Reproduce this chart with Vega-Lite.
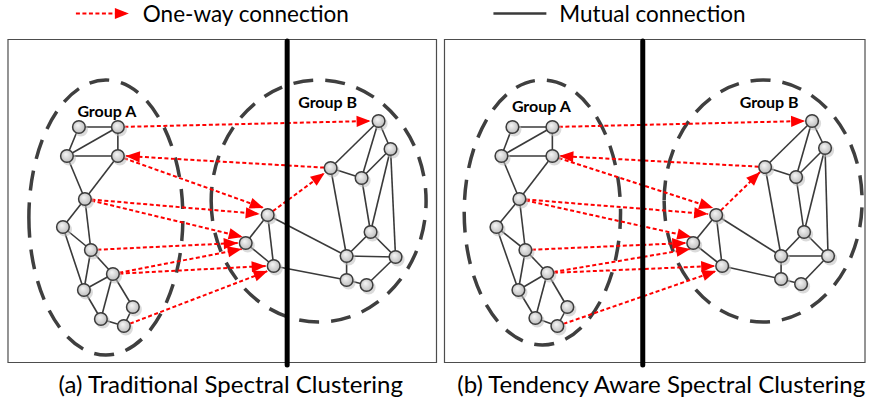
{
  "$schema": "https://vega.github.io/schema/vega-lite/v6.json",
  "width": 869,
  "height": 405,
  "padding": 0,
  "autosize": {"type": "fit", "contains": "padding"},
  "background": "white",
  "config": {"view": {"stroke": null}},
  "datasets": {
    "nodes": [
      {"id": "aA1", "x": 79, "y": 127}, {"id": "aA2", "x": 118, "y": 127}, {"id": "aA3", "x": 67, "y": 156}, {"id": "aA4", "x": 118, "y": 156},
      {"id": "aA5", "x": 85, "y": 199}, {"id": "aA6", "x": 63, "y": 227}, {"id": "aA7", "x": 91, "y": 250}, {"id": "aA8", "x": 113, "y": 274},
      {"id": "aA9", "x": 84, "y": 290}, {"id": "aA10", "x": 133, "y": 307}, {"id": "aA11", "x": 101, "y": 319}, {"id": "aA12", "x": 124, "y": 326},
      {"id": "aM1", "x": 268, "y": 215}, {"id": "aM2", "x": 246, "y": 243}, {"id": "aM3", "x": 274, "y": 266},
      {"id": "aB1", "x": 379, "y": 121}, {"id": "aB2", "x": 391, "y": 149}, {"id": "aB3", "x": 331, "y": 168}, {"id": "aB4", "x": 362, "y": 178},
      {"id": "aB5", "x": 371, "y": 232}, {"id": "aB6", "x": 347, "y": 256}, {"id": "aB7", "x": 396, "y": 257}, {"id": "aB8", "x": 347, "y": 280}, {"id": "aB9", "x": 367, "y": 285},
      {"id": "bA1", "x": 513, "y": 127}, {"id": "bA2", "x": 553, "y": 127}, {"id": "bA3", "x": 502, "y": 156}, {"id": "bA4", "x": 553, "y": 156},
      {"id": "bA5", "x": 520, "y": 199}, {"id": "bA6", "x": 497, "y": 227}, {"id": "bA7", "x": 526, "y": 250}, {"id": "bA8", "x": 548, "y": 273},
      {"id": "bA9", "x": 519, "y": 290}, {"id": "bA10", "x": 568, "y": 307}, {"id": "bA11", "x": 536, "y": 318}, {"id": "bA12", "x": 558, "y": 326},
      {"id": "bM1", "x": 717, "y": 215}, {"id": "bM2", "x": 694, "y": 243}, {"id": "bM3", "x": 723, "y": 266},
      {"id": "bB1", "x": 813, "y": 121}, {"id": "bB2", "x": 826, "y": 148}, {"id": "bB3", "x": 766, "y": 167}, {"id": "bB4", "x": 797, "y": 177},
      {"id": "bB5", "x": 805, "y": 232}, {"id": "bB6", "x": 782, "y": 256}, {"id": "bB7", "x": 829, "y": 256}, {"id": "bB8", "x": 782, "y": 279}, {"id": "bB9", "x": 802, "y": 284}
    ],
    "edges": [
      {"s": "aA1", "t": "aA2"}, {"s": "aA1", "t": "aA3"}, {"s": "aA3", "t": "aA2"}, {"s": "aA3", "t": "aA4"}, {"s": "aA2", "t": "aA4"},
      {"s": "aA3", "t": "aA5"}, {"s": "aA4", "t": "aA5"}, {"s": "aA5", "t": "aA6"}, {"s": "aA5", "t": "aA7"}, {"s": "aA6", "t": "aA7"},
      {"s": "aA6", "t": "aA9"}, {"s": "aA7", "t": "aA8"}, {"s": "aA7", "t": "aA9"}, {"s": "aA8", "t": "aA9"}, {"s": "aA8", "t": "aA11"},
      {"s": "aA8", "t": "aA10"}, {"s": "aA9", "t": "aA11"}, {"s": "aA11", "t": "aA12"}, {"s": "aA10", "t": "aA12"},
      {"s": "aM1", "t": "aM2"}, {"s": "aM1", "t": "aM3"}, {"s": "aM2", "t": "aM3"}, {"s": "aM1", "t": "aB6"}, {"s": "aM3", "t": "aB8"},
      {"s": "aB1", "t": "aB3"}, {"s": "aB1", "t": "aB4"}, {"s": "aB1", "t": "aB2"}, {"s": "aB2", "t": "aB4"}, {"s": "aB2", "t": "aB5"},
      {"s": "aB2", "t": "aB7"}, {"s": "aB4", "t": "aB5"}, {"s": "aB3", "t": "aB4"}, {"s": "aB3", "t": "aB6"}, {"s": "aB5", "t": "aB6"},
      {"s": "aB5", "t": "aB7"}, {"s": "aB6", "t": "aB7"}, {"s": "aB6", "t": "aB8"}, {"s": "aB8", "t": "aB9"}, {"s": "aB9", "t": "aB7"},
      {"s": "bA1", "t": "bA2"}, {"s": "bA1", "t": "bA3"}, {"s": "bA3", "t": "bA2"}, {"s": "bA3", "t": "bA4"}, {"s": "bA2", "t": "bA4"},
      {"s": "bA3", "t": "bA5"}, {"s": "bA4", "t": "bA5"}, {"s": "bA5", "t": "bA6"}, {"s": "bA5", "t": "bA7"}, {"s": "bA6", "t": "bA7"},
      {"s": "bA6", "t": "bA9"}, {"s": "bA7", "t": "bA8"}, {"s": "bA7", "t": "bA9"}, {"s": "bA8", "t": "bA9"}, {"s": "bA8", "t": "bA11"},
      {"s": "bA8", "t": "bA10"}, {"s": "bA9", "t": "bA11"}, {"s": "bA11", "t": "bA12"}, {"s": "bA10", "t": "bA12"},
      {"s": "bM1", "t": "bM2"}, {"s": "bM1", "t": "bM3"}, {"s": "bM2", "t": "bM3"}, {"s": "bM1", "t": "bB6"}, {"s": "bM3", "t": "bB8"},
      {"s": "bB1", "t": "bB3"}, {"s": "bB1", "t": "bB4"}, {"s": "bB1", "t": "bB2"}, {"s": "bB2", "t": "bB4"}, {"s": "bB2", "t": "bB5"},
      {"s": "bB2", "t": "bB7"}, {"s": "bB4", "t": "bB5"}, {"s": "bB3", "t": "bB4"}, {"s": "bB3", "t": "bB6"}, {"s": "bB5", "t": "bB6"},
      {"s": "bB5", "t": "bB7"}, {"s": "bB6", "t": "bB7"}, {"s": "bB6", "t": "bB8"}, {"s": "bB8", "t": "bB9"}, {"s": "bB9", "t": "bB7"}
    ],
    "arrows": [
      {"s": "aA2", "tx": 371, "ty": 121}, {"s": "aB3", "tx": 126, "ty": 156}, {"s": "aA4", "tx": 264, "ty": 208},
      {"s": "aA5", "tx": 260, "ty": 214}, {"s": "aA5", "tx": 243, "ty": 237}, {"s": "aA7", "tx": 238, "ty": 243},
      {"s": "aA8", "tx": 242, "ty": 249}, {"s": "aA8", "tx": 266, "ty": 266}, {"s": "aA12", "tx": 268, "ty": 271},
      {"s": "aM1", "tx": 325, "ty": 173},
      {"s": "bA2", "tx": 806, "ty": 121}, {"s": "bB3", "tx": 560, "ty": 156}, {"s": "bA4", "tx": 714, "ty": 208},
      {"s": "bA5", "tx": 709, "ty": 214}, {"s": "bA5", "tx": 692, "ty": 237}, {"s": "bA7", "tx": 687, "ty": 243},
      {"s": "bA8", "tx": 691, "ty": 249}, {"s": "bA8", "tx": 716, "ty": 266}, {"s": "bA12", "tx": 717, "ty": 271},
      {"s": "bM1", "tx": 761, "ty": 172}
    ]
  },
  "layer": [
    {
      "data": {"values": [{"x0": 8, "x1": 437, "y0": 39.5, "y1": 362.5}, {"x0": 445, "x1": 866, "y0": 39.5, "y1": 362.5}]},
      "mark": {"type": "rect", "fill": null, "fillOpacity": 0, "stroke": "#4d4d4d", "strokeWidth": 1.2},
      "encoding": {
        "x": {"field": "x0", "type": "quantitative", "scale": {"domain": [0, 869], "nice": false}, "axis": null},
        "x2": {"field": "x1"},
        "y": {"field": "y0", "type": "quantitative", "scale": {"domain": [0, 405], "nice": false, "reverse": true}, "axis": null},
        "y2": {"field": "y1"}
      }
    },
    {
      "data": {"values": [{"group": "Group A", "panel": "a", "x": 106, "y": 217.5}]},
      "mark": {"type": "point", "shape": "M-0.56,0A0.56,1,0,1,0,0.56,0A0.56,1,0,1,0,-0.56,0Z", "size": 75625, "filled": false, "stroke": "#3f3f3f", "strokeWidth": 3.5, "strokeDash": [20, 12], "opacity": 1},
      "encoding": {
        "x": {"field": "x", "type": "quantitative", "scale": {"domain": [0, 869], "nice": false}, "axis": null},
        "y": {"field": "y", "type": "quantitative", "scale": {"domain": [0, 405], "nice": false, "reverse": true}, "axis": null}
      }
    },
    {
      "data": {"values": [{"group": "Group B", "panel": "a", "x": 319, "y": 201}]},
      "mark": {"type": "point", "shape": "M-0.888,0A0.888,1,0,1,0,0.888,0A0.888,1,0,1,0,-0.888,0Z", "size": 58564, "filled": false, "stroke": "#3f3f3f", "strokeWidth": 3.5, "strokeDash": [20, 12], "opacity": 1},
      "encoding": {
        "x": {"field": "x", "type": "quantitative", "scale": {"domain": [0, 869], "nice": false}, "axis": null},
        "y": {"field": "y", "type": "quantitative", "scale": {"domain": [0, 405], "nice": false, "reverse": true}, "axis": null}
      }
    },
    {
      "data": {"values": [{"group": "Group A", "panel": "b", "x": 543, "y": 212.5}]},
      "mark": {"type": "point", "shape": "M-0.59,0A0.59,1,0,1,0,0.59,0A0.59,1,0,1,0,-0.59,0Z", "size": 70225, "filled": false, "stroke": "#3f3f3f", "strokeWidth": 3.5, "strokeDash": [20, 12], "opacity": 1},
      "encoding": {
        "x": {"field": "x", "type": "quantitative", "scale": {"domain": [0, 869], "nice": false}, "axis": null},
        "y": {"field": "y", "type": "quantitative", "scale": {"domain": [0, 405], "nice": false, "reverse": true}, "axis": null}
      }
    },
    {
      "data": {"values": [{"group": "Group B", "panel": "b", "x": 764, "y": 201}]},
      "mark": {"type": "point", "shape": "M-0.818,0A0.818,1,0,1,0,0.818,0A0.818,1,0,1,0,-0.818,0Z", "size": 58564, "filled": false, "stroke": "#3f3f3f", "strokeWidth": 3.5, "strokeDash": [20, 12], "opacity": 1},
      "encoding": {
        "x": {"field": "x", "type": "quantitative", "scale": {"domain": [0, 869], "nice": false}, "axis": null},
        "y": {"field": "y", "type": "quantitative", "scale": {"domain": [0, 405], "nice": false, "reverse": true}, "axis": null}
      }
    },
    {
      "data": {"name": "edges"},
      "transform": [
        {"lookup": "s", "from": {"data": {"name": "nodes"}, "key": "id", "fields": ["x", "y"]}, "as": ["sx", "sy"]},
        {"lookup": "t", "from": {"data": {"name": "nodes"}, "key": "id", "fields": ["x", "y"]}, "as": ["tx", "ty"]}
      ],
      "mark": {"type": "rule", "color": "#3a3a3a", "strokeWidth": 1.6},
      "encoding": {
        "x": {"field": "sx", "type": "quantitative", "scale": {"domain": [0, 869], "nice": false}, "axis": null},
        "y": {"field": "sy", "type": "quantitative", "scale": {"domain": [0, 405], "nice": false, "reverse": true}, "axis": null},
        "x2": {"field": "tx"},
        "y2": {"field": "ty"}
      }
    },
    {
      "data": {"name": "arrows"},
      "transform": [
        {"lookup": "s", "from": {"data": {"name": "nodes"}, "key": "id", "fields": ["x", "y"]}, "as": ["sx", "sy"]}
      ],
      "mark": {"type": "rule", "color": "#ff0000", "strokeWidth": 2, "strokeDash": [4, 2.5]},
      "encoding": {
        "x": {"field": "sx", "type": "quantitative", "scale": {"domain": [0, 869], "nice": false}, "axis": null},
        "y": {"field": "sy", "type": "quantitative", "scale": {"domain": [0, 405], "nice": false, "reverse": true}, "axis": null},
        "x2": {"field": "tx"},
        "y2": {"field": "ty"}
      }
    },
    {
      "data": {"name": "arrows"},
      "transform": [
        {"lookup": "s", "from": {"data": {"name": "nodes"}, "key": "id", "fields": ["x", "y"]}, "as": ["sx", "sy"]},
        {"calculate": "atan2(datum.ty - datum.sy, datum.tx - datum.sx) * 180 / PI", "as": "ang"}
      ],
      "mark": {"type": "point", "shape": "M0,0L-2,-0.8L-2,0.8Z", "size": 196, "filled": true, "color": "#ff0000", "opacity": 1},
      "encoding": {
        "x": {"field": "tx", "type": "quantitative", "scale": {"domain": [0, 869], "nice": false}, "axis": null},
        "y": {"field": "ty", "type": "quantitative", "scale": {"domain": [0, 405], "nice": false, "reverse": true}, "axis": null},
        "angle": {"field": "ang", "type": "quantitative", "scale": null}
      }
    },
    {
      "data": {"values": [{"x": 287.5, "y0": 41, "y1": 365}, {"x": 643.5, "y0": 41, "y1": 365}]},
      "mark": {"type": "rule", "color": "#000000", "strokeWidth": 5, "strokeCap": "round"},
      "encoding": {
        "x": {"field": "x", "type": "quantitative", "scale": {"domain": [0, 869], "nice": false}, "axis": null},
        "y": {"field": "y0", "type": "quantitative", "scale": {"domain": [0, 405], "nice": false, "reverse": true}, "axis": null},
        "y2": {"field": "y1"}
      }
    },
    {
      "data": {"name": "nodes"},
      "mark": {"type": "point", "shape": "circle", "size": 200, "filled": true, "color": "#bdbdbd", "opacity": 0.55, "xOffset": 2, "yOffset": 2.5, "strokeWidth": 0},
      "encoding": {
        "x": {"field": "x", "type": "quantitative", "scale": {"domain": [0, 869], "nice": false}, "axis": null},
        "y": {"field": "y", "type": "quantitative", "scale": {"domain": [0, 405], "nice": false, "reverse": true}, "axis": null}
      }
    },
    {
      "data": {"name": "nodes"},
      "mark": {
        "type": "point", "shape": "circle", "size": 160, "filled": true, "opacity": 1,
        "fill": {"gradient": "radial", "x1": 0.4, "y1": 0.35, "r1": 0, "x2": 0.5, "y2": 0.5, "r2": 0.6,
          "stops": [{"offset": 0, "color": "#f7f7f7"}, {"offset": 1, "color": "#b5b5b5"}]},
        "stroke": "#3c3c3c", "strokeWidth": 1.5
      },
      "encoding": {
        "x": {"field": "x", "type": "quantitative", "scale": {"domain": [0, 869], "nice": false}, "axis": null},
        "y": {"field": "y", "type": "quantitative", "scale": {"domain": [0, 405], "nice": false, "reverse": true}, "axis": null}
      }
    },
    {
      "data": {"values": [
        {"label": "Group A", "x": 107, "y": 112}, {"label": "Group B", "x": 328, "y": 103},
        {"label": "Group A", "x": 542, "y": 107}, {"label": "Group B", "x": 770, "y": 103}
      ]},
      "mark": {"type": "text", "font": "Lato", "fontSize": 16, "fontWeight": "bold", "color": "#000000", "align": "center", "baseline": "middle"},
      "encoding": {
        "x": {"field": "x", "type": "quantitative", "scale": {"domain": [0, 869], "nice": false}, "axis": null},
        "y": {"field": "y", "type": "quantitative", "scale": {"domain": [0, 405], "nice": false, "reverse": true}, "axis": null},
        "text": {"field": "label"}
      }
    },
    {
      "data": {"values": [{"item": "One-way connection", "x0": 76, "x1": 126, "y": 13.5}]},
      "mark": {"type": "rule", "color": "#ff0000", "strokeWidth": 2, "strokeDash": [4, 2.5]},
      "encoding": {
        "x": {"field": "x0", "type": "quantitative", "scale": {"domain": [0, 869], "nice": false}, "axis": null},
        "x2": {"field": "x1"},
        "y": {"field": "y", "type": "quantitative", "scale": {"domain": [0, 405], "nice": false, "reverse": true}, "axis": null}
      }
    },
    {
      "data": {"values": [{"item": "One-way connection", "x": 129, "y": 13.5}]},
      "mark": {"type": "point", "shape": "M0,0L-2,-0.8L-2,0.8Z", "size": 196, "filled": true, "color": "#ff0000", "opacity": 1},
      "encoding": {
        "x": {"field": "x", "type": "quantitative", "scale": {"domain": [0, 869], "nice": false}, "axis": null},
        "y": {"field": "y", "type": "quantitative", "scale": {"domain": [0, 405], "nice": false, "reverse": true}, "axis": null}
      }
    },
    {
      "data": {"values": [{"item": "Mutual connection", "x0": 494, "x1": 547, "y": 13.5}]},
      "mark": {"type": "rule", "color": "#3a3a3a", "strokeWidth": 2.5},
      "encoding": {
        "x": {"field": "x0", "type": "quantitative", "scale": {"domain": [0, 869], "nice": false}, "axis": null},
        "x2": {"field": "x1"},
        "y": {"field": "y", "type": "quantitative", "scale": {"domain": [0, 405], "nice": false, "reverse": true}, "axis": null}
      }
    },
    {
      "data": {"values": [
        {"label": "One-way connection", "x": 143, "y": 21.5},
        {"label": "Mutual connection", "x": 560, "y": 21.5}
      ]},
      "mark": {"type": "text", "font": "Lato", "fontSize": 22.5, "color": "#000000", "align": "left", "baseline": "alphabetic"},
      "encoding": {
        "x": {"field": "x", "type": "quantitative", "scale": {"domain": [0, 869], "nice": false}, "axis": null},
        "y": {"field": "y", "type": "quantitative", "scale": {"domain": [0, 405], "nice": false, "reverse": true}, "axis": null},
        "text": {"field": "label"}
      }
    },
    {
      "data": {"values": [
        {"label": "(a) Traditional Spectral Clustering", "x": 231, "y": 386},
        {"label": "(b) Tendency Aware Spectral Clustering", "x": 662, "y": 386}
      ]},
      "mark": {"type": "text", "font": "Lato", "fontSize": 24, "color": "#000000", "align": "center", "baseline": "middle"},
      "encoding": {
        "x": {"field": "x", "type": "quantitative", "scale": {"domain": [0, 869], "nice": false}, "axis": null},
        "y": {"field": "y", "type": "quantitative", "scale": {"domain": [0, 405], "nice": false, "reverse": true}, "axis": null},
        "text": {"field": "label"}
      }
    }
  ]
}
